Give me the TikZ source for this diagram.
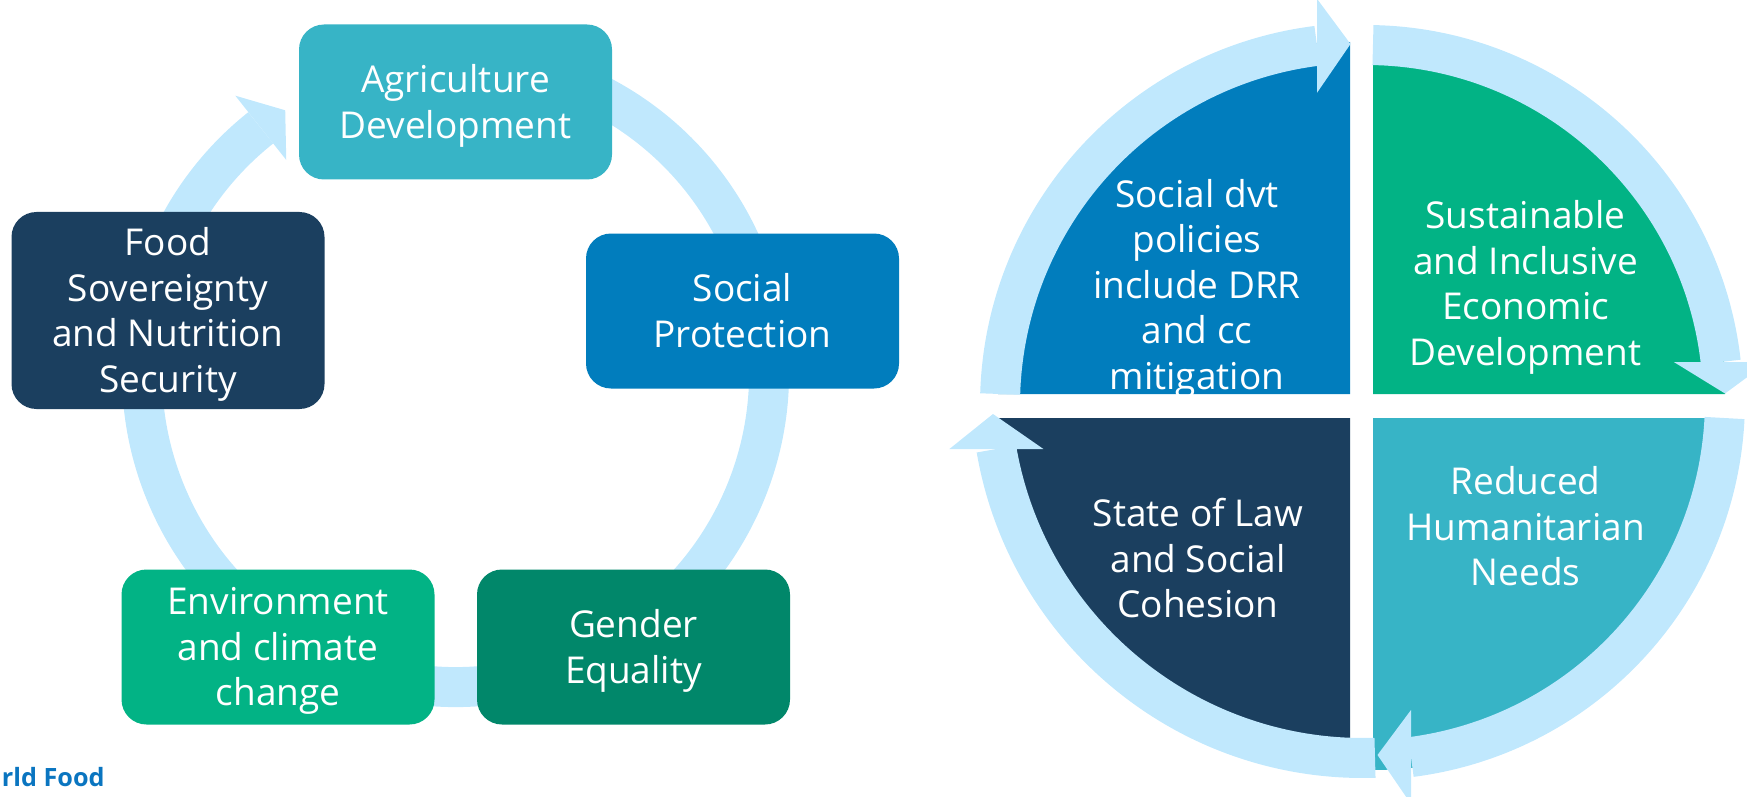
\documentclass[tikz,border=0pt]{standalone}
\usepackage{fontspec}
\setmainfont{Open Sans}
\usetikzlibrary{calc}
\definecolor{ringc}{RGB}{192,232,253}
\definecolor{tealc}{RGB}{55,180,198}
\definecolor{bluec}{RGB}{1,125,189}
\definecolor{navyc}{RGB}{27,63,95}
\definecolor{greenc}{RGB}{2,179,133}
\definecolor{dgreenc}{RGB}{1,135,106}
\definecolor{wfpblue}{RGB}{10,117,192}
\newcommand\mytopstrut{\rule{0pt}{20.2pt}}
\newcommand\mybotstrut{\rule[-6.84pt]{0pt}{6.84pt}}
\begin{document}
\begin{tikzpicture}[x=0.5pt,y=0.5pt,
  box/.style={rounded corners=12.5pt, minimum width=156.5pt, minimum height=77.5pt,
    inner sep=0pt, text=white, align=center, font=\fontsize{18.5}{22.8}\selectfont},
  qtext/.style={inner sep=0pt, text=white, align=center, font=\fontsize{18.5}{22.8}\selectfont},
  band/.style={draw=ringc, line width=20pt},
  headfill/.style={fill=ringc}]
\useasboundingbox (0,0) rectangle (1747,-797);

% ---------------- left cycle ----------------
\coordinate (L) at (455.5,-373.5);
\draw[band] ($(L)+(110:313.5)$) arc[start angle=110, end angle=-231.6, radius=313.5];
\fill[headfill] ($(L)+(128.4:354.5)$) -- ($(L)+(122.9:313.5)$) -- ($(L)+(128.4:272.5)$) -- cycle;

\node[box, fill=tealc] (agri) at (455.5,-102) {\mytopstrut Agriculture\\Development\mybotstrut};
\node[box, fill=bluec] (soc) at (742.5,-311) {\mytopstrut Social\\Protection\mybotstrut};
\node[box, fill=navyc, minimum height=98.5pt] (food) at (168,-310.5) {\mytopstrut Food\\Sovereignty\\and Nutrition\\Security\mybotstrut};
\node[box, fill=greenc] (env) at (278,-647) {\mytopstrut Environment\\and climate\\change\mybotstrut};
\node[box, fill=dgreenc] (gen) at (633.5,-647) {\mytopstrut Gender\\Equality\mybotstrut};

\node[anchor=base east, inner sep=0pt, text=wfpblue, font=\fontsize{12.6}{15}\selectfont\bfseries] (wfp) at (105,-786) {rld Food};

% ---------------- right quadrant circle ----------------
\fill[bluec]  (1350,-394) -- ++(180:352) arc[start angle=180, end angle=90, radius=352] -- cycle;
\fill[greenc] (1373,-394) -- ++(90:352) arc[start angle=90, end angle=0, radius=352] -- cycle;
\fill[tealc]  (1373,-418) -- ++(0:352) arc[start angle=0, end angle=-90, radius=352] -- cycle;
\fill[navyc]  (1350,-418) -- ++(-90:352) arc[start angle=-90, end angle=-180, radius=352] -- cycle;

\coordinate (C1) at (1362,-405);
\coordinate (C2) at (1366,-402);
\coordinate (C3) at (1365,-400);
\coordinate (C4) at (1363,-386);

\draw[band] ($(C1)+(178.26:362)$) arc[start angle=178.26, end angle=97.14, radius=362];
\fill[headfill] (1317,1.2) -- (1350.5,-44) -- (1317,-92.8) -- cycle;

\draw[band] ($(C2)+(88.88:357)$) arc[start angle=88.88, end angle=6.43, radius=357];
\fill[headfill] (1673.8,-362) -- (1725,-393.5) -- (1767.8,-362) -- cycle;

\draw[band] ($(C3)+(-2.87:360)$) arc[start angle=-2.87, end angle=-82.66, radius=360];
\fill[headfill] (1411,-710) -- (1377.5,-755) -- (1411,-804) -- cycle;

\draw[band] ($(C4)+(-88.15:372)$) arc[start angle=-88.15, end angle=-170.25, radius=372];
\fill[headfill] (949.4,-449) -- (993,-414) -- (1043.4,-449) -- cycle;

\node[qtext] (q1) at (1197,-285) {\mytopstrut Social dvt\\policies\\include DRR\\and cc\\mitigation\mybotstrut};
\node[qtext] (q2) at (1525.5,-283.5) {\mytopstrut Sustainable\\and Inclusive\\Economic\\Development\mybotstrut};
\node[qtext] (q3) at (1525.5,-527) {\mytopstrut Reduced\\Humanitarian\\Needs\mybotstrut};
\node[qtext] (q4) at (1198,-559) {\mytopstrut State of Law\\and Social\\Cohesion\mybotstrut};
\end{tikzpicture}
\end{document}
